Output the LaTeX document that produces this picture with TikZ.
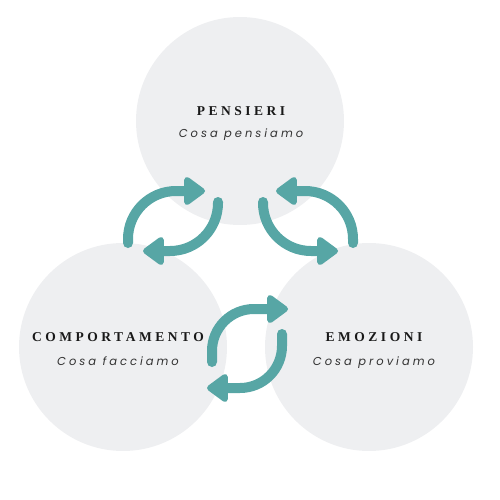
\documentclass[tikz,border=0pt]{standalone}
\usepackage{fontspec}
\usepackage{xcolor}
\usetikzlibrary{arrows.meta}
\newfontfamily\titfont{Liberation Serif}[LetterSpace=26]
\newfontfamily\subfont{Poppins}[LetterSpace=26]
\definecolor{cerchio}{HTML}{EEEFF1}
\definecolor{ottanio}{HTML}{57A6A5}

\begin{document}
\begin{tikzpicture}[x=1pt,y=-1pt,
  bubble/.style={circle,fill=cerchio,minimum size=208pt,inner sep=0pt},
  titolo/.style={font=\titfont\bfseries\fontsize{13.5}{15}\selectfont,text=black!90,inner sep=0pt,anchor=base},
  sotto/.style={font=\subfont\itshape\fontsize{11.5}{13}\selectfont,text=black!80,inner sep=0pt,anchor=base},
  sync/.style={draw=ottanio,line width=10pt,line cap=round,
    -{Triangle[length=23pt,width=32pt,round]}}]
\useasboundingbox (0,0) rectangle (500,500);
%% the three circles
\node [bubble] (pensieri) at (240,121) {};
\node [bubble] (comportamento) at (123,347) {};
\node [bubble] (emozioni) at (369,347) {};
%% labels
\node [titolo] (pensieri-t) at (241,115.5) {PENSIERI};
\node [sotto] (pensieri-s) at (241,137.5) {Cosa pensiamo};
\node [titolo] (comportamento-t) at (118,341) {COMPORTAMENTO};
\node [sotto] (comportamento-s) at (118,365) {Cosa facciamo};
\node [titolo] (emozioni-t) at (374,341) {EMOZIONI};
\node [sotto] (emozioni-s) at (374,365) {Cosa proviamo};
%% arrows between pensieri and comportamento
\coordinate (a1) at (128,243);
\coordinate (a2) at (205,191);
\coordinate (a3) at (218,202);
\coordinate (a4) at (143,251);
\draw [sync, rounded corners=48pt] (a1) |- (a2);
\draw [sync, rounded corners=48pt] (a3) |- (a4);
%% arrows between pensieri and emozioni
\coordinate (b1) at (353,243);
\coordinate (b2) at (276,191);
\coordinate (b3) at (263,202);
\coordinate (b4) at (338,251);
\draw [sync, rounded corners=48pt] (b1) |- (b2);
\draw [sync, rounded corners=48pt] (b3) |- (b4);
%% arrows between comportamento and emozioni
\coordinate (c1) at (212,362);
\coordinate (c2) at (288,309);
\coordinate (c3) at (282,334);
\coordinate (c4) at (207,388);
\draw [sync, rounded corners=42pt] (c1) |- (c2);
\draw [sync, rounded corners=42pt] (c3) |- (c4);
\end{tikzpicture}
\end{document}
